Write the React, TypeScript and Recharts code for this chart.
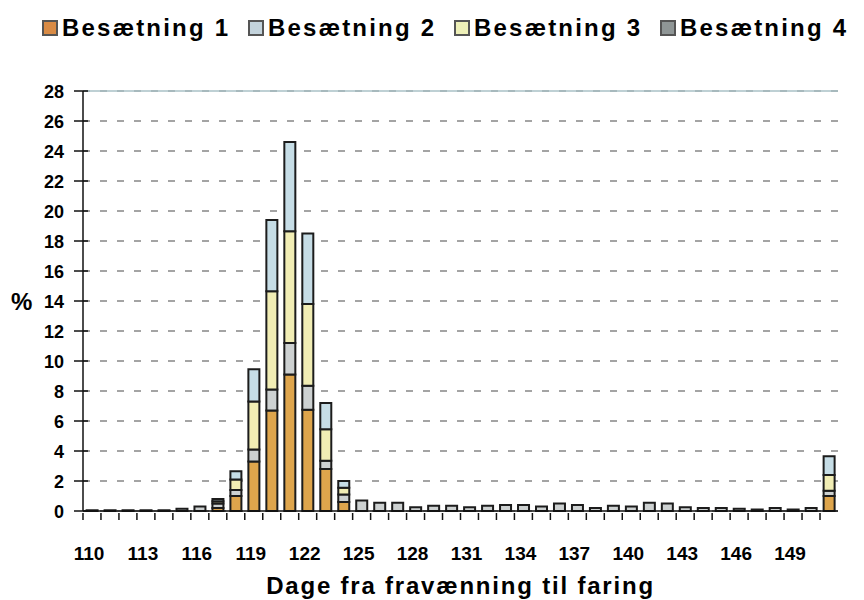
import { BarChart, Bar, XAxis, YAxis, CartesianGrid, ReferenceLine } from "recharts";

const days = [
  110, 111, 112, 113, 114, 115, 116, 117, 118, 119, 120, 121, 122, 123,
  124, 125, 126, 127, 128, 129, 130, 131, 132, 133, 134, 135, 136, 137,
  138, 139, 140, 141, 142, 143, 144, 145, 146, 147, 148, 149, 150, 151,
];

// % of farrowings per herd (Besætning)
const besaetning1 = [
  0, 0, 0, 0, 0, 0, 0, 0.2, 1.0, 3.3, 6.7, 9.1, 6.75, 2.8,
  0.6, 0, 0, 0, 0, 0, 0, 0, 0, 0, 0, 0, 0, 0,
  0, 0, 0, 0, 0, 0, 0, 0, 0, 0, 0, 0, 0, 1.0,
];
const besaetning2 = [
  0, 0, 0, 0, 0, 0, 0, 0.15, 0.55, 2.15, 4.75, 5.95, 4.7, 1.75,
  0.45, 0, 0, 0, 0, 0, 0, 0, 0, 0, 0, 0, 0, 0,
  0, 0, 0, 0, 0, 0, 0, 0, 0, 0, 0, 0, 0, 1.25,
];
const besaetning3 = [
  0, 0, 0, 0, 0, 0, 0, 0.15, 0.7, 3.2, 6.55, 7.45, 5.45, 2.1,
  0.45, 0, 0, 0, 0, 0, 0, 0, 0, 0, 0, 0, 0, 0,
  0, 0, 0, 0, 0, 0, 0, 0, 0, 0, 0, 0, 0, 1.05,
];
const besaetning4 = [
  0.05, 0.05, 0.05, 0.05, 0.05, 0.15, 0.3, 0.3, 0.4, 0.8, 1.4, 2.1, 1.6, 0.55,
  0.5, 0.7, 0.55, 0.55, 0.25, 0.35, 0.35, 0.25, 0.35, 0.4, 0.4, 0.3, 0.5, 0.4,
  0.2, 0.35, 0.3, 0.55, 0.5, 0.25, 0.2, 0.2, 0.15, 0.1, 0.2, 0.1, 0.2, 0.35,
];

const yTicks = [0, 2, 4, 6, 8, 10, 12, 14, 16, 18, 20, 22, 24, 26, 28];

const series = [
  { key: "b1", name: "Besætning 1", fill: "#dea54c", swatch: "#d98b45" },
  { key: "b2", name: "Besætning 2", fill: "#c6dde6", swatch: "#c3d3dc" },
  { key: "b3", name: "Besætning 3", fill: "#f1edb4", swatch: "#eef0b8" },
  { key: "b4", name: "Besætning 4", fill: "#cdd1d1", swatch: "#8f9696" },
];
// stacking order seen in the bars: 1 at bottom, then 4, 3 and 2 on top
const stackOrder = ["b1", "b4", "b3", "b2"];

const data = days.map((d, i) => ({
  day: d,
  b1: besaetning1[i],
  b2: besaetning2[i],
  b3: besaetning3[i],
  b4: besaetning4[i],
}));

const FONT = "'Liberation Sans', Arial, sans-serif";

const DayTick = ({ x, y, payload }: any) => {
  const v = Number(payload.value);
  return (
    <g>
      <line x1={x - 9} x2={x - 9} y1={y} y2={y + 7} stroke="#111" strokeWidth={1.5} />
      {v % 3 === 2 && (
        <text x={x - 3} y={y + 47} textAnchor="middle" fontSize={19} fontWeight="bold" fill="#000" fontFamily={FONT}>
          {v}
        </text>
      )}
    </g>
  );
};

const PctTick = ({ x, y, payload }: any) => (
  <g>
    <line x1={x - 7} x2={x + 7} y1={y} y2={y} stroke="#111" strokeWidth={1.5} />
    <text x={x - 17} y={y} dy={6.5} textAnchor="end" fontSize={18} fontWeight="bold" fill="#000" fontFamily={FONT}>
      {payload.value}
    </text>
  </g>
);

export default function App() {
  return (
    <div style={{ position: "absolute", left: 0, top: 0, width: 864, height: 600, background: "#fff", fontFamily: FONT }}>
      <div style={{ position: "absolute", left: 42, top: 14, display: "flex" }}>
        {series.map((s) => (
          <div key={s.key} style={{ width: 206, display: "flex", alignItems: "center" }}>
            <span
              style={{
                width: 12,
                height: 12,
                background: s.swatch,
                border: "2px solid #555",
                marginRight: 4,
                display: "inline-block",
              }}
            />
            <span style={{ fontSize: 24, fontWeight: "bold", color: "#000", whiteSpace: "nowrap", letterSpacing: 2.2 }}>
              {s.name}
            </span>
          </div>
        ))}
      </div>
      <BarChart
        width={864}
        height={600}
        data={data}
        margin={{ top: 91, right: 26, bottom: 0, left: 10 }}
        barCategoryGap="20%"
      >
        <CartesianGrid horizontal vertical={false} stroke="#4a4a4a" strokeWidth={1.2} strokeDasharray="7 10" />
        <ReferenceLine y={28} stroke="#a9c1c6" strokeWidth={1.5} />
        <XAxis
          dataKey="day"
          interval={0}
          height={89}
          tickSize={0}
          tickLine={false}
          axisLine={{ stroke: "#111", strokeWidth: 1.5 }}
          tick={<DayTick />}
          label={{
            value: "Dage fra fravænning til faring",
            position: "insideBottom",
            offset: 6,
            fontSize: 24,
            fontWeight: "bold",
            fill: "#000",
            fontFamily: FONT,
            letterSpacing: 1.8,
          }}
        />
        <YAxis
          width={73}
          domain={[0, 28]}
          ticks={yTicks}
          interval={0}
          tickSize={0}
          tickLine={false}
          axisLine={{ stroke: "#111", strokeWidth: 1.5 }}
          tick={<PctTick />}
          label={{
            value: "%",
            position: "insideLeft",
            offset: 1,
            fontSize: 24,
            fontWeight: "bold",
            fill: "#000",
            fontFamily: FONT,
          }}
        />
        <YAxis
          yAxisId="frame"
          orientation="right"
          width={0}
          domain={[0, 28]}
          tick={false}
          tickLine={false}
          axisLine={{ stroke: "#999", strokeWidth: 1.5 }}
        />
        {stackOrder.map((k) => {
          const s = series.find((x) => x.key === k)!;
          return (
            <Bar
              key={k}
              dataKey={k}
              name={s.name}
              stackId="a"
              fill={s.fill}
              stroke="#1c1c1c"
              strokeWidth={2}
              isAnimationActive={false}
            />
          );
        })}
      </BarChart>
    </div>
  );
}
